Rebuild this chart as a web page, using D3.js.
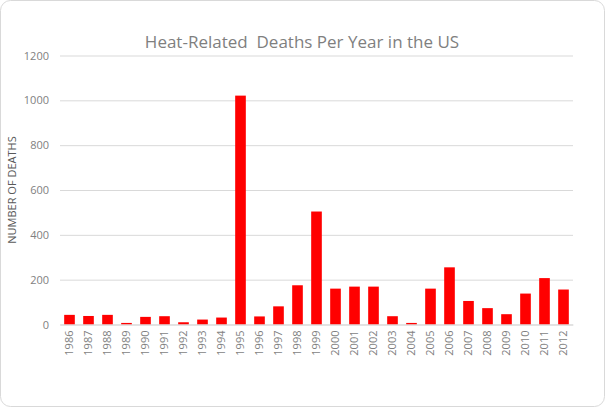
<!DOCTYPE html>
<html><head><meta charset="utf-8">
<script src="https://cdn.jsdelivr.net/npm/d3@7"></script>
<style>
html,body{margin:0;padding:0;background:#fff;}
svg{display:block;}
text{font-family:"Open Sans","Liberation Sans",sans-serif;}
</style></head>
<body>
<svg id="chart" width="605" height="407"></svg>
<script>
const years = ["1986","1987","1988","1989","1990","1991","1992","1993","1994","1995","1996","1997","1998","1999","2000","2001","2002","2003","2004","2005","2006","2007","2008","2009","2010","2011","2012"];
const deaths = [43,38,43,7,34,37,10,22,31,1021,36,81,175,504,160,169,169,37,7,160,255,105,73,46,138,207,156];
const yTicks = [0,200,400,600,800,1000,1200];
const title = "Heat-Related  Deaths Per Year in the US";
const yTitle = "NUMBER OF DEATHS";

const svg = d3.select("#chart");
const W = 605, H = 407;
const m = {left:60, right:32, top:55.5, bottom:82.5};

svg.append("rect").attr("x",0.5).attr("y",0.5).attr("width",W-1).attr("height",H-1)
  .attr("rx",10).attr("fill","#fff").attr("stroke","#d9d9d9");

const x = d3.scaleBand().domain(years).range([m.left, W-m.right]).paddingInner(0.44).paddingOuter(0.22);
const y = d3.scaleLinear().domain([0,1200]).range([H-m.bottom, m.top]);

// gridlines
const gy = svg.append("g").attr("transform",`translate(${m.left},0)`)
  .call(d3.axisLeft(y).tickValues(yTicks).tickSize(-(W-m.left-m.right)).tickPadding(11).tickFormat(d3.format("d")));
gy.select(".domain").remove();
gy.selectAll(".tick line").attr("stroke","#d9d9d9").attr("stroke-width",1);
gy.selectAll(".tick text").attr("fill","#7f7f7f").style("font-size","11px").style("font-family","'Open Sans','Liberation Sans',sans-serif");

// bars
svg.append("g").selectAll("rect").data(years).join("rect")
  .attr("x", d=>x(d)).attr("width", x.bandwidth())
  .attr("y", (d,i)=>y(deaths[i])).attr("height",(d,i)=>y(0)-y(deaths[i]))
  .attr("fill","#ff0000");

// x axis
const gx = svg.append("g").attr("transform",`translate(0,${y(0)})`)
  .call(d3.axisBottom(x).tickSize(0).tickPadding(0));
gx.select(".domain").attr("stroke","#d9d9d9");
gx.selectAll(".tick text")
  .attr("transform","rotate(-90)")
  .attr("x",-6).attr("y",0).attr("dy","0.35em")
  .style("text-anchor","end")
  .attr("fill","#7f7f7f").style("font-size","11px").style("font-family","'Open Sans','Liberation Sans',sans-serif");

// title
svg.append("text").attr("x",302).attr("y",48).attr("text-anchor","middle")
  .attr("fill","#7f7f7f").style("font-size","17px").style("white-space","pre").text(title);

// y title
svg.append("text").attr("transform","translate(16,190) rotate(-90)").attr("text-anchor","middle")
  .attr("fill","#595959").style("font-size","11px").text(yTitle);
</script>
</body></html>
